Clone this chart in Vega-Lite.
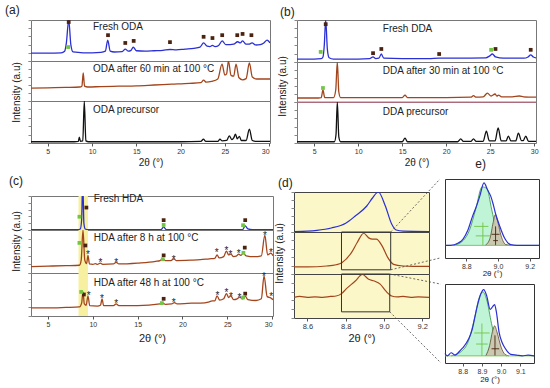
{
"$schema": "https://vega.github.io/schema/vega-lite/v6.json",
"padding": {"left": 4, "top": 0, "right": 0, "bottom": 0},
"spacing": 0,
"config": {
 "font": "Liberation Sans",
 "view": {"stroke": "#777", "strokeWidth": 1},
 "axisX": {"labelFontSize": 7, "labelColor": "#333", "tickColor": "#555", "tickSize": 3, "labelPadding": 1, "domain": false, "grid": false, "titleFontSize": 10, "titleFontWeight": "normal", "titleColor": "#222", "titlePadding": 3},
 "axisY": {"labels": false, "domain": false, "grid": false, "tickSize": 3, "tickCount": 4, "tickColor": "#888", "titleFontSize": 10, "titleFontWeight": "normal", "titleColor": "#222", "titlePadding": 6},
 "title": {"fontSize": 12, "fontWeight": "normal", "color": "#222", "frame": "group"}
},
"datasets": {
 "a1": [{"x":3.1,"y":19},{"x":5,"y":19},{"x":6.5,"y":20},{"x":6.9,"y":24},{"x":7.1,"y":45},{"x":7.36,"y":100},{"x":7.6,"y":40},{"x":7.85,"y":22},{"x":9,"y":20},{"x":10,"y":20},{"x":11,"y":21},{"x":11.5,"y":24},{"x":11.77,"y":51},{"x":12.05,"y":24},{"x":12.5,"y":22},{"x":13.4,"y":23},{"x":13.75,"y":29},{"x":14.1,"y":24},{"x":14.4,"y":26},{"x":14.65,"y":34},{"x":15,"y":25},{"x":16,"y":24},{"x":17,"y":25},{"x":18,"y":26},{"x":18.8,"y":28},{"x":19.5,"y":27},{"x":20.5,"y":29},{"x":21.5,"y":31},{"x":22.2,"y":34},{"x":22.6,"y":44},{"x":23,"y":36},{"x":23.3,"y":35},{"x":23.6,"y":38},{"x":23.9,"y":35},{"x":24.3,"y":38},{"x":24.7,"y":49},{"x":25.1,"y":40},{"x":25.6,"y":40},{"x":26,"y":41},{"x":26.45,"y":47},{"x":26.75,"y":44},{"x":27,"y":49},{"x":27.4,"y":41},{"x":27.7,"y":41},{"x":28.07,"y":44},{"x":28.5,"y":39},{"x":29,"y":40},{"x":29.4,"y":44},{"x":29.77,"y":51},{"x":30.1,"y":44}],
 "a1m": [{"x":7.36,"y":95,"k":"b"},{"x":11.8,"y":63,"k":"b"},{"x":13.75,"y":44,"k":"b"},{"x":14.7,"y":49,"k":"b"},{"x":18.8,"y":46,"k":"b"},{"x":22.6,"y":59,"k":"b"},{"x":23.6,"y":56,"k":"b"},{"x":24.7,"y":63,"k":"b"},{"x":26.4,"y":63,"k":"b"},{"x":27.0,"y":66,"k":"b"},{"x":28.0,"y":63,"k":"b"},{"x":7.3,"y":34,"k":"g"}],
 "a2": [{"x":3.1,"y":32},{"x":5,"y":33},{"x":7,"y":34},{"x":8.6,"y":35},{"x":8.85,"y":37},{"x":9.0,"y":70},{"x":9.15,"y":37},{"x":9.5,"y":35},{"x":11,"y":36},{"x":13,"y":37},{"x":15,"y":38},{"x":17,"y":40},{"x":19,"y":42},{"x":21,"y":44},{"x":22.3,"y":46},{"x":22.6,"y":52},{"x":22.9,"y":47},{"x":23.5,"y":49},{"x":24.2,"y":55},{"x":24.68,"y":92},{"x":25.0,"y":65},{"x":25.2,"y":68},{"x":25.4,"y":100},{"x":25.7,"y":64},{"x":26.0,"y":62},{"x":26.26,"y":92},{"x":26.6,"y":58},{"x":27.0,"y":53},{"x":27.4,"y":56},{"x":27.77,"y":95},{"x":28.1,"y":60},{"x":28.6,"y":55},{"x":29.5,"y":55},{"x":30.1,"y":55}],
 "a3": [{"x":3.1,"y":3},{"x":8,"y":3},{"x":8.45,"y":4},{"x":8.56,"y":14},{"x":8.68,"y":4},{"x":8.95,"y":5},{"x":9.12,"y":100},{"x":9.3,"y":5},{"x":9.6,"y":3},{"x":15,"y":3},{"x":20,"y":3},{"x":22.3,"y":4},{"x":22.58,"y":9},{"x":22.85,"y":4},{"x":24.2,"y":4},{"x":24.45,"y":9},{"x":24.7,"y":5},{"x":25.2,"y":6},{"x":25.5,"y":17},{"x":25.8,"y":8},{"x":26.0,"y":12},{"x":26.2,"y":21},{"x":26.4,"y":10},{"x":26.65,"y":16},{"x":26.85,"y":6},{"x":27.4,"y":6},{"x":27.77,"y":33},{"x":28.1,"y":6},{"x":28.5,"y":4},{"x":30.1,"y":4}],
 "b1": [{"x":3.05,"y":7},{"x":5,"y":7},{"x":5.8,"y":8},{"x":6.0,"y":12},{"x":6.15,"y":40},{"x":6.31,"y":100},{"x":6.5,"y":30},{"x":6.7,"y":10},{"x":7.2,"y":7},{"x":10,"y":7},{"x":11.3,"y":8},{"x":11.69,"y":12},{"x":12.0,"y":8},{"x":12.35,"y":9},{"x":12.63,"y":19},{"x":12.9,"y":9},{"x":15,"y":8},{"x":18,"y":8},{"x":19.2,"y":9},{"x":21,"y":9},{"x":24.5,"y":10},{"x":24.9,"y":14},{"x":25.25,"y":19},{"x":25.6,"y":12},{"x":26.5,"y":9},{"x":28.8,"y":9},{"x":29.3,"y":12},{"x":29.6,"y":17},{"x":29.9,"y":12},{"x":30.2,"y":10}],
 "b1m": [{"x":6.31,"y":90,"k":"b"},{"x":11.69,"y":21,"k":"b"},{"x":12.63,"y":31,"k":"b"},{"x":19.2,"y":19,"k":"b"},{"x":25.6,"y":31,"k":"b"},{"x":29.6,"y":29,"k":"b"},{"x":5.74,"y":24,"k":"g"},{"x":25.1,"y":29,"k":"g"}],
 "b2": [{"x":3.05,"y":10},{"x":5.5,"y":10},{"x":5.8,"y":11},{"x":6.0,"y":30},{"x":6.2,"y":11},{"x":7.2,"y":11},{"x":7.45,"y":30},{"x":7.63,"y":100},{"x":7.8,"y":25},{"x":8.0,"y":11},{"x":11,"y":11},{"x":15.0,"y":11},{"x":15.32,"y":17},{"x":15.6,"y":11},{"x":20,"y":11},{"x":22.8,"y":12},{"x":23.1,"y":16},{"x":23.4,"y":12},{"x":24.2,"y":13},{"x":24.68,"y":22},{"x":25.1,"y":15},{"x":25.55,"y":20},{"x":25.75,"y":15},{"x":25.95,"y":17},{"x":26.3,"y":13},{"x":27.5,"y":13},{"x":28.3,"y":15},{"x":28.8,"y":13},{"x":30.2,"y":12}],
 "b2m": [{"x":6.0,"y":35,"k":"g"}],
 "b3": [{"x":3.05,"y":3},{"x":7.3,"y":3},{"x":7.48,"y":20},{"x":7.63,"y":100},{"x":7.8,"y":15},{"x":8.0,"y":3},{"x":15.0,"y":3},{"x":15.32,"y":12},{"x":15.6,"y":3},{"x":21.3,"y":3},{"x":21.65,"y":10},{"x":21.95,"y":4},{"x":22.8,"y":4},{"x":23.1,"y":10},{"x":23.4,"y":4},{"x":24.2,"y":4},{"x":24.56,"y":29},{"x":24.9,"y":5},{"x":25.55,"y":5},{"x":25.9,"y":37},{"x":26.25,"y":5},{"x":26.8,"y":5},{"x":27.06,"y":17},{"x":27.35,"y":5},{"x":27.9,"y":5},{"x":28.2,"y":24},{"x":28.55,"y":6},{"x":28.75,"y":6},{"x":29.04,"y":17},{"x":29.35,"y":4},{"x":30.2,"y":4}],
 "c1": [{"x":3.1,"y":1},{"x":8.3,"y":1},{"x":8.6,"y":3},{"x":8.75,"y":30},{"x":8.87,"y":150},{"x":9.0,"y":20},{"x":9.15,"y":3},{"x":9.5,"y":1},{"x":17.6,"y":1},{"x":17.9,"y":9},{"x":18.2,"y":1},{"x":26.7,"y":1},{"x":27.0,"y":12},{"x":27.3,"y":3},{"x":27.8,"y":1},{"x":30.1,"y":1}],
 "c1m": [{"x":8.5,"y":39,"k":"g"},{"x":9.28,"y":66,"k":"b"},{"x":17.9,"y":29,"k":"b"},{"x":17.9,"y":15,"k":"g"},{"x":27.0,"y":29,"k":"b"},{"x":26.76,"y":14,"k":"g"}],
 "c2": [{"x":3.1,"y":15},{"x":5,"y":16},{"x":7,"y":17},{"x":8.5,"y":18},{"x":8.7,"y":30},{"x":8.9,"y":100},{"x":9.1,"y":30},{"x":9.3,"y":22},{"x":9.46,"y":41},{"x":9.62,"y":21},{"x":10.0,"y":20},{"x":10.3,"y":22},{"x":10.5,"y":20},{"x":10.84,"y":23},{"x":11.1,"y":20},{"x":12.3,"y":21},{"x":12.6,"y":25},{"x":12.9,"y":21},{"x":15,"y":23},{"x":17.0,"y":27},{"x":17.5,"y":29},{"x":17.8,"y":33},{"x":18.1,"y":29},{"x":18.7,"y":29},{"x":19.03,"y":33},{"x":19.3,"y":29},{"x":21,"y":30},{"x":22,"y":31},{"x":23,"y":33},{"x":23.6,"y":34},{"x":23.86,"y":42},{"x":24.1,"y":35},{"x":24.6,"y":38},{"x":24.9,"y":51},{"x":25.15,"y":42},{"x":25.4,"y":44},{"x":25.7,"y":38},{"x":26.0,"y":39},{"x":26.28,"y":44},{"x":26.5,"y":41},{"x":26.8,"y":46},{"x":27.1,"y":40},{"x":28.0,"y":38},{"x":28.8,"y":40},{"x":29.19,"y":88},{"x":29.5,"y":42},{"x":29.86,"y":46},{"x":30.1,"y":40}],
 "c2m": [{"x":9.46,"y":48,"k":"s"},{"x":10.84,"y":30,"k":"s"},{"x":12.6,"y":30,"k":"s"},{"x":19.03,"y":37,"k":"s"},{"x":23.82,"y":53,"k":"s"},{"x":24.9,"y":58,"k":"s"},{"x":25.35,"y":49,"k":"s"},{"x":26.28,"y":51,"k":"s"},{"x":29.19,"y":93,"k":"s"},{"x":29.86,"y":53,"k":"s"},{"x":9.17,"y":64,"k":"b"},{"x":17.9,"y":41,"k":"b"},{"x":26.95,"y":59,"k":"b"},{"x":8.5,"y":70,"k":"g"},{"x":17.8,"y":32,"k":"g"},{"x":26.8,"y":47,"k":"g"}],
 "c3": [{"x":3.1,"y":19},{"x":5,"y":19},{"x":7,"y":20},{"x":8.5,"y":21},{"x":8.75,"y":30},{"x":8.9,"y":56},{"x":9.05,"y":28},{"x":9.25,"y":25},{"x":9.46,"y":47},{"x":9.65,"y":24},{"x":10.5,"y":23},{"x":10.85,"y":25},{"x":11.03,"y":40},{"x":11.2,"y":24},{"x":12.3,"y":24},{"x":12.6,"y":28},{"x":12.9,"y":24},{"x":15,"y":24},{"x":17.5,"y":28},{"x":17.8,"y":30},{"x":18.1,"y":27},{"x":18.8,"y":28},{"x":19.1,"y":31},{"x":19.4,"y":28},{"x":21,"y":30},{"x":22,"y":30},{"x":23,"y":33},{"x":23.3,"y":35},{"x":23.6,"y":35},{"x":23.86,"y":47},{"x":24.15,"y":37},{"x":24.6,"y":40},{"x":24.9,"y":52},{"x":25.15,"y":43},{"x":25.4,"y":47},{"x":25.7,"y":38},{"x":26.1,"y":40},{"x":26.4,"y":44},{"x":26.7,"y":40},{"x":27.0,"y":46},{"x":27.3,"y":38},{"x":28.2,"y":36},{"x":28.8,"y":40},{"x":29.1,"y":93},{"x":29.45,"y":45},{"x":29.86,"y":42},{"x":30.1,"y":38}],
 "c3m": [{"x":9.54,"y":53,"k":"s"},{"x":11.03,"y":46,"k":"s"},{"x":12.6,"y":34,"k":"s"},{"x":19.03,"y":38,"k":"s"},{"x":23.9,"y":53,"k":"s"},{"x":24.9,"y":60,"k":"s"},{"x":25.4,"y":51,"k":"s"},{"x":26.35,"y":50,"k":"s"},{"x":29.08,"y":98,"k":"s"},{"x":29.9,"y":52,"k":"s"},{"x":9.0,"y":50,"k":"b"},{"x":17.9,"y":40,"k":"b"},{"x":27.0,"y":52,"k":"b"},{"x":8.7,"y":56,"k":"g"},{"x":17.7,"y":30,"k":"g"},{"x":26.76,"y":43,"k":"g"}],
 "d1": [{"x":8.53,"y":1},{"x":8.6,"y":2},{"x":8.65,"y":4},{"x":8.725,"y":10},{"x":8.8,"y":22},{"x":8.85,"y":40},{"x":8.91,"y":65},{"x":8.94,"y":85},{"x":8.97,"y":100},{"x":9.007,"y":65},{"x":9.04,"y":20},{"x":9.064,"y":5},{"x":9.1,"y":2},{"x":9.235,"y":1}],
 "d2": [{"x":8.53,"y":17},{"x":8.6,"y":17},{"x":8.7,"y":19},{"x":8.75,"y":22},{"x":8.78,"y":27},{"x":8.83,"y":51},{"x":8.86,"y":75},{"x":8.894,"y":97},{"x":8.92,"y":86},{"x":8.94,"y":83},{"x":8.96,"y":83},{"x":8.99,"y":67},{"x":9.02,"y":39},{"x":9.05,"y":23},{"x":9.1,"y":19},{"x":9.15,"y":18},{"x":9.235,"y":18}],
 "d3": [{"x":8.53,"y":47},{"x":8.56,"y":49},{"x":8.6,"y":47},{"x":8.64,"y":48},{"x":8.68,"y":47},{"x":8.72,"y":49},{"x":8.75,"y":50},{"x":8.78,"y":56},{"x":8.8,"y":65},{"x":8.85,"y":84},{"x":8.887,"y":99},{"x":8.92,"y":88},{"x":8.95,"y":84},{"x":8.98,"y":77},{"x":9.01,"y":61},{"x":9.04,"y":50},{"x":9.07,"y":48},{"x":9.1,"y":49},{"x":9.14,"y":47},{"x":9.18,"y":48},{"x":9.235,"y":47}],
 "d2box": [{"x":8.778,"x2":9.035,"y":10,"y2":100}],
 "d3box": [{"x":8.778,"x2":9.03,"y":14,"y2":100}],
 "d2con": [{"x":9.035,"y":100,"x2":9.292,"y2":226},{"x":9.035,"y":10,"x2":9.292,"y2":38}],
 "d3con": [{"x":9.03,"y":100,"x2":9.297,"y2":77},{"x":9.03,"y":14,"x2":9.297,"y2":-102}],
 "e1b": [{"x":8.666,"y":16},{"x":8.7,"y":16},{"x":8.75,"y":19},{"x":8.78,"y":24},{"x":8.81,"y":35},{"x":8.84,"y":53},{"x":8.865,"y":66},{"x":8.885,"y":78},{"x":8.912,"y":95},{"x":8.935,"y":86},{"x":8.955,"y":78},{"x":8.97,"y":68},{"x":8.985,"y":56},{"x":9.01,"y":41},{"x":9.04,"y":26},{"x":9.08,"y":17},{"x":9.12,"y":16},{"x":9.2,"y":16},{"x":9.259,"y":16}],
 "e1g": [{"x":8.72,"y":16},{"x":8.78,"y":22},{"x":8.82,"y":35},{"x":8.86,"y":62},{"x":8.9,"y":90},{"x":8.93,"y":88},{"x":8.96,"y":62},{"x":8.99,"y":35},{"x":9.02,"y":20},{"x":9.06,"y":16}],
 "e1k": [{"x":8.92,"y":16},{"x":8.95,"y":25},{"x":8.97,"y":45},{"x":8.983,"y":55},{"x":9.0,"y":45},{"x":9.02,"y":28},{"x":9.05,"y":17},{"x":9.08,"y":16}],
 "e1r": [{"x":8.905,"x2":8.905,"y":16,"y2":45,"k":"g"},{"x":8.85,"x2":8.94,"y":40,"y2":40,"k":"g"},{"x":8.86,"x2":8.95,"y":28,"y2":28,"k":"g"},{"x":8.985,"x2":8.985,"y":16,"y2":40,"k":"k"},{"x":8.96,"x2":9.01,"y":30,"y2":30,"k":"k"},{"x":8.97,"x2":9.0,"y":22,"y2":22,"k":"k"},{"x":8.666,"x2":9.259,"y":16,"y2":16,"k":"g"}],
 "e2b": [{"x":8.708,"y":12},{"x":8.72,"y":9},{"x":8.74,"y":13},{"x":8.76,"y":10},{"x":8.78,"y":14},{"x":8.8,"y":19},{"x":8.83,"y":30},{"x":8.85,"y":43},{"x":8.865,"y":60},{"x":8.88,"y":76},{"x":8.895,"y":88},{"x":8.909,"y":93},{"x":8.925,"y":85},{"x":8.943,"y":68},{"x":8.955,"y":71},{"x":8.966,"y":74},{"x":8.975,"y":65},{"x":8.99,"y":38},{"x":9.005,"y":26},{"x":9.02,"y":19},{"x":9.05,"y":11},{"x":9.08,"y":10},{"x":9.11,"y":9},{"x":9.14,"y":10},{"x":9.171,"y":9}],
 "e2g": [{"x":8.74,"y":9},{"x":8.79,"y":14},{"x":8.83,"y":28},{"x":8.86,"y":55},{"x":8.885,"y":82},{"x":8.905,"y":90},{"x":8.925,"y":80},{"x":8.95,"y":50},{"x":8.975,"y":25},{"x":9.0,"y":13},{"x":9.03,"y":9}],
 "e2k": [{"x":8.92,"y":9},{"x":8.94,"y":22},{"x":8.955,"y":40},{"x":8.966,"y":47},{"x":8.98,"y":38},{"x":9.0,"y":20},{"x":9.02,"y":11},{"x":9.04,"y":9}],
 "e2r": [{"x":8.9,"x2":8.9,"y":9,"y2":50,"k":"g"},{"x":8.86,"x2":8.94,"y":38,"y2":38,"k":"g"},{"x":8.87,"x2":8.93,"y":24,"y2":24,"k":"g"},{"x":8.968,"x2":8.968,"y":9,"y2":35,"k":"k"},{"x":8.95,"x2":8.99,"y":18,"y2":18,"k":"k"},{"x":8.708,"x2":9.171,"y":9,"y2":9,"k":"g"}],
 "labA1": [{"x":10.1,"y":83,"t":"Fresh ODA"}],
 "labA2": [{"x":10.1,"y":80,"t":"ODA after 60 min at 100 °C"}],
 "labA3": [{"x":10.1,"y":79,"t":"ODA precursor"}],
 "labB1": [{"x":12.8,"y":79,"t":"Fresh DDA"}],
 "labB2": [{"x":12.8,"y":78,"t":"DDA after 30 min at 100 °C"}],
 "labB3": [{"x":12.8,"y":76,"t":"DDA precursor"}],
 "labC1": [{"x":10.1,"y":91,"t":"Fresh HDA"}],
 "labC2": [{"x":10.1,"y":81,"t":"HDA after 8 h at 100 °C"}],
 "labC3": [{"x":10.1,"y":77,"t":"HDA after 48 h at 100 °C"}],
 "band": [{"x":8.4,"x2":9.45,"y":0,"y2":100}],
 "sepB": [{"x":3.05,"x2":30.2,"y":100}]
},
"vconcat": [
 {"hconcat": [
  {"vconcat": [
   {"width": 10, "height": 20, "data": {"values": []}, "mark": "point", "view": {"stroke": null}},
   {"width": 239, "height": 41,
    "title": {"text": "(a)", "anchor": "start", "dx": -26, "offset": 3},
    "encoding": {"x": {"field": "x", "type": "quantitative", "scale": {"domain": [3.1, 30.1], "nice": false, "zero": false}, "axis": null},
                 "y": {"field": "y", "type": "quantitative", "scale": {"domain": [0, 100], "nice": false, "zero": false}, "axis": {"title": null}}},
    "layer": [
     {"data": {"name": "a1"}, "mark": {"type": "line", "color": "#2a2fd4", "strokeWidth": 1.3, "interpolate": "monotone", "clip": true}},
     {"data": {"name": "a1m"}, "mark": {"type": "square", "size": 14, "opacity": 1}, "encoding": {"color": {"field": "k", "type": "nominal", "scale": {"domain": ["b", "g"], "range": ["#4a2410", "#72c545"]}, "legend": null}}},
     {"data": {"name": "labA1"}, "mark": {"type": "text", "align": "left", "baseline": "middle", "fontSize": 10, "color": "#222"}, "encoding": {"text": {"field": "t"}}}
    ]},
   {"width": 239, "height": 40,
    "encoding": {"x": {"field": "x", "type": "quantitative", "scale": {"domain": [3.1, 30.1], "nice": false, "zero": false}, "axis": null},
                 "y": {"field": "y", "type": "quantitative", "scale": {"domain": [0, 100], "nice": false, "zero": false}, "axis": {"title": "Intensity (a.u)", "titleY": 31}}},
    "layer": [
     {"data": {"name": "a2"}, "mark": {"type": "line", "color": "#a3451c", "strokeWidth": 1.3, "interpolate": "monotone", "clip": true}},
     {"data": {"name": "labA2"}, "mark": {"type": "text", "align": "left", "baseline": "middle", "fontSize": 10, "color": "#222"}, "encoding": {"text": {"field": "t"}}}
    ]},
   {"width": 239, "height": 42,
    "encoding": {"x": {"field": "x", "type": "quantitative", "scale": {"domain": [3.1, 30.1], "nice": false, "zero": false}, "axis": {"values": [5, 10, 15, 20, 25, 30], "title": "2θ (°)"}},
                 "y": {"field": "y", "type": "quantitative", "scale": {"domain": [0, 100], "nice": false, "zero": false}, "axis": {"title": null}}},
    "layer": [
     {"data": {"name": "a3"}, "mark": {"type": "line", "color": "#111111", "strokeWidth": 1.3, "interpolate": "monotone", "clip": true}},
     {"data": {"name": "labA3"}, "mark": {"type": "text", "align": "left", "baseline": "middle", "fontSize": 10, "color": "#222"}, "encoding": {"text": {"field": "t"}}}
    ]},
   {"width": 10, "height": 31, "data": {"values": []}, "mark": "point", "view": {"stroke": null}}
  ], "spacing": 0, "bounds": "flush"},
  {"vconcat": [
   {"width": 10, "height": 20, "data": {"values": []}, "mark": "point", "view": {"stroke": null}},
   {"width": 239, "height": 42,
    "title": {"text": "(b)", "anchor": "start", "dx": -17, "offset": 1},
    "encoding": {"x": {"field": "x", "type": "quantitative", "scale": {"domain": [3.05, 30.2], "nice": false, "zero": false}, "axis": null},
                 "y": {"field": "y", "type": "quantitative", "scale": {"domain": [0, 100], "nice": false, "zero": false}, "axis": {"title": null}}},
    "layer": [
     {"data": {"name": "b1"}, "mark": {"type": "line", "color": "#2a2fd4", "strokeWidth": 1.3, "interpolate": "monotone", "clip": true}},
     {"data": {"name": "b1m"}, "mark": {"type": "square", "size": 14, "opacity": 1}, "encoding": {"color": {"field": "k", "type": "nominal", "scale": {"domain": ["b", "g"], "range": ["#4a2410", "#72c545"]}, "legend": null}}},
     {"data": {"name": "labB1"}, "mark": {"type": "text", "align": "left", "baseline": "middle", "fontSize": 10, "color": "#222"}, "encoding": {"text": {"field": "t"}}}
    ]},
   {"width": 239, "height": 40,
    "encoding": {"x": {"field": "x", "type": "quantitative", "scale": {"domain": [3.05, 30.2], "nice": false, "zero": false}, "axis": null},
                 "y": {"field": "y", "type": "quantitative", "scale": {"domain": [0, 100], "nice": false, "zero": false}, "axis": {"title": "Intensity (a.u)", "titleY": 24}}},
    "layer": [
     {"data": {"name": "b2"}, "mark": {"type": "line", "color": "#a3451c", "strokeWidth": 1.3, "interpolate": "monotone", "clip": true}},
     {"data": {"name": "b2m"}, "mark": {"type": "square", "size": 14, "opacity": 1, "color": "#72c545"}},
     {"data": {"name": "labB2"}, "mark": {"type": "text", "align": "left", "baseline": "middle", "fontSize": 10, "color": "#222"}, "encoding": {"text": {"field": "t"}}}
    ]},
   {"width": 239, "height": 41,
    "encoding": {"x": {"field": "x", "type": "quantitative", "scale": {"domain": [3.05, 30.2], "nice": false, "zero": false}, "axis": {"values": [5, 10, 15, 20, 25, 30], "title": "2θ (°)"}},
                 "y": {"field": "y", "type": "quantitative", "scale": {"domain": [0, 100], "nice": false, "zero": false}, "axis": {"title": null}}},
    "layer": [
     {"data": {"name": "sepB"}, "mark": {"type": "rule", "color": "#e0607e", "strokeWidth": 1.2}, "encoding": {"x2": {"field": "x2"}}},
     {"data": {"name": "b3"}, "mark": {"type": "line", "color": "#111111", "strokeWidth": 1.3, "interpolate": "monotone", "clip": true}},
     {"data": {"name": "labB3"}, "mark": {"type": "text", "align": "left", "baseline": "middle", "fontSize": 10, "color": "#222"}, "encoding": {"text": {"field": "t"}}}
    ]},
   {"width": 239, "height": 31, "data": {"values": []}, "mark": "point", "view": {"stroke": null},
    "title": {"text": "e)", "orient": "bottom", "anchor": "end", "dx": -50, "offset": -15}}
  ], "spacing": 0, "bounds": "flush"}
 ], "spacing": 6},
 {"hconcat": [
  {"vconcat": [
   {"width": 10, "height": 21, "data": {"values": []}, "mark": "point", "view": {"stroke": null}},
   {"width": 242, "height": 34,
    "title": {"text": "(c)", "anchor": "start", "dx": -22, "offset": 6},
    "encoding": {"x": {"field": "x", "type": "quantitative", "scale": {"domain": [3.1, 30.1], "nice": false, "zero": false}, "axis": null},
                 "y": {"field": "y", "type": "quantitative", "scale": {"domain": [0, 100], "nice": false, "zero": false}, "axis": {"title": null}}},
    "layer": [
     {"data": {"name": "band"}, "mark": {"type": "rect", "color": "#f6f0a0"}, "encoding": {"x2": {"field": "x2"}, "y2": {"field": "y2"}}},
     {"data": {"name": "c1"}, "mark": {"type": "line", "color": "#2a2fd4", "strokeWidth": 1.3, "interpolate": "monotone", "clip": true}},
     {"data": {"name": "c1m"}, "mark": {"type": "square", "size": 14, "opacity": 1}, "encoding": {"color": {"field": "k", "type": "nominal", "scale": {"domain": ["b", "g"], "range": ["#4a2410", "#72c545"]}, "legend": null}}},
     {"data": {"name": "labC1"}, "mark": {"type": "text", "align": "left", "baseline": "middle", "fontSize": 10, "color": "#222"}, "encoding": {"text": {"field": "t"}}}
    ]},
   {"width": 242, "height": 43,
    "encoding": {"x": {"field": "x", "type": "quantitative", "scale": {"domain": [3.1, 30.1], "nice": false, "zero": false}, "axis": null},
                 "y": {"field": "y", "type": "quantitative", "scale": {"domain": [0, 100], "nice": false, "zero": false}, "axis": {"title": "Intensity (a.u)", "titleY": 11}}},
    "layer": [
     {"data": {"name": "band"}, "mark": {"type": "rect", "color": "#f6f0a0"}, "encoding": {"x2": {"field": "x2"}, "y2": {"field": "y2"}}},
     {"data": {"name": "c2"}, "mark": {"type": "line", "color": "#a3451c", "strokeWidth": 1.3, "interpolate": "monotone", "clip": true}},
     {"data": {"name": "c2m"}, "transform": [{"filter": "datum.k !== 's'"}], "mark": {"type": "square", "size": 14, "opacity": 1}, "encoding": {"color": {"field": "k", "type": "nominal", "scale": {"domain": ["b", "g"], "range": ["#4a2410", "#72c545"]}, "legend": null}}},
     {"data": {"name": "c2m"}, "transform": [{"filter": "datum.k === 's'"}], "mark": {"type": "text", "text": "*", "fontSize": 10, "baseline": "middle", "dy": 3, "color": "#222"}},
     {"data": {"name": "labC2"}, "mark": {"type": "text", "align": "left", "baseline": "middle", "fontSize": 10, "color": "#222"}, "encoding": {"text": {"field": "t"}}}
    ]},
   {"width": 242, "height": 43,
    "encoding": {"x": {"field": "x", "type": "quantitative", "scale": {"domain": [3.1, 30.1], "nice": false, "zero": false}, "axis": {"values": [5, 10, 15, 20, 25, 30], "title": "2θ (°)", "titleFontSize": 11, "titlePadding": 5}},
                 "y": {"field": "y", "type": "quantitative", "scale": {"domain": [0, 100], "nice": false, "zero": false}, "axis": {"title": null}}},
    "layer": [
     {"data": {"name": "band"}, "mark": {"type": "rect", "color": "#f6f0a0"}, "encoding": {"x2": {"field": "x2"}, "y2": {"field": "y2"}}},
     {"data": {"name": "c3"}, "mark": {"type": "line", "color": "#a3451c", "strokeWidth": 1.3, "interpolate": "monotone", "clip": true}},
     {"data": {"name": "c3m"}, "transform": [{"filter": "datum.k !== 's'"}], "mark": {"type": "square", "size": 14, "opacity": 1}, "encoding": {"color": {"field": "k", "type": "nominal", "scale": {"domain": ["b", "g"], "range": ["#4a2410", "#72c545"]}, "legend": null}}},
     {"data": {"name": "c3m"}, "transform": [{"filter": "datum.k === 's'"}], "mark": {"type": "text", "text": "*", "fontSize": 10, "baseline": "middle", "dy": 3, "color": "#222"}},
     {"data": {"name": "labC3"}, "mark": {"type": "text", "align": "left", "baseline": "middle", "fontSize": 10, "color": "#222"}, "encoding": {"text": {"field": "t"}}}
    ]}
  ], "spacing": 0, "bounds": "flush"},
  {"hconcat": [
   {"vconcat": [
    {"width": 10, "height": 17, "data": {"values": []}, "mark": "point", "view": {"stroke": null}},
    {"width": 135, "height": 40,
     "title": {"text": "(d)", "anchor": "start", "dx": -16, "offset": 2},
     "view": {"fill": "#fcf7c8", "stroke": "#444"},
     "encoding": {"x": {"field": "x", "type": "quantitative", "scale": {"domain": [8.53, 9.235], "nice": false, "zero": false}, "axis": null},
                  "y": {"field": "y", "type": "quantitative", "scale": {"domain": [0, 100], "nice": false, "zero": false}, "axis": {"title": null}}},
     "layer": [
      {"data": {"name": "d1"}, "mark": {"type": "line", "color": "#2a2fd4", "strokeWidth": 1.2, "interpolate": "monotone", "clip": true}}
     ]},
    {"width": 135, "height": 42,
     "view": {"fill": "#fcf7c8", "stroke": "#444"},
     "encoding": {"x": {"field": "x", "type": "quantitative", "scale": {"domain": [8.53, 9.235], "nice": false, "zero": false}, "axis": null},
                  "y": {"field": "y", "type": "quantitative", "scale": {"domain": [0, 100], "nice": false, "zero": false}, "axis": {"title": "Intensity (a.u)"}}},
     "layer": [
      {"data": {"name": "d2"}, "mark": {"type": "line", "color": "#a3451c", "strokeWidth": 1.2, "interpolate": "monotone", "clip": true}},
      {"data": {"name": "d2box"}, "mark": {"type": "rect", "fillOpacity": 0, "stroke": "#333", "strokeWidth": 1}, "encoding": {"x2": {"field": "x2"}, "y2": {"field": "y2"}}},
      {"data": {"name": "d2con"}, "mark": {"type": "rule", "color": "#444", "strokeWidth": 0.8, "strokeDash": [2, 2]}, "encoding": {"x2": {"field": "x2"}, "y2": {"field": "y2"}}}
     ]},
    {"width": 135, "height": 44,
     "view": {"fill": "#fcf7c8", "stroke": "#444"},
     "encoding": {"x": {"field": "x", "type": "quantitative", "scale": {"domain": [8.53, 9.235], "nice": false, "zero": false}, "axis": {"values": [8.6, 8.8, 9.0, 9.2], "format": ".1f", "title": "2θ (°)", "labelFontSize": 7.5, "titleFontSize": 11}},
                  "y": {"field": "y", "type": "quantitative", "scale": {"domain": [0, 100], "nice": false, "zero": false}, "axis": {"title": null}}},
     "layer": [
      {"data": {"name": "d3"}, "mark": {"type": "line", "color": "#a3451c", "strokeWidth": 1.2, "interpolate": "monotone", "clip": true}},
      {"data": {"name": "d3box"}, "mark": {"type": "rect", "fillOpacity": 0, "stroke": "#333", "strokeWidth": 1}, "encoding": {"x2": {"field": "x2"}, "y2": {"field": "y2"}}},
      {"data": {"name": "d3con"}, "mark": {"type": "rule", "color": "#444", "strokeWidth": 0.8, "strokeDash": [2, 2]}, "encoding": {"x2": {"field": "x2"}, "y2": {"field": "y2"}}}
     ]}
   ], "spacing": 0, "bounds": "flush"},
   {"vconcat": [
    {"width": 10, "height": 4, "data": {"values": []}, "mark": "point", "view": {"stroke": null}},
    {"width": 94, "height": 79,
     "view": {"stroke": "#333"},
     "encoding": {"x": {"field": "x", "type": "quantitative", "scale": {"domain": [8.666, 9.259], "nice": false, "zero": false}, "axis": {"values": [8.8, 9.0, 9.2], "format": ".1f", "title": "2θ (°)", "titleFontSize": 8, "titlePadding": 0}},
                  "y": {"field": "y", "type": "quantitative", "scale": {"domain": [0, 100], "nice": false, "zero": false}, "axis": null}},
     "layer": [
      {"data": {"name": "e1g"}, "mark": {"type": "area", "color": "#a4f0c6", "interpolate": "monotone", "line": {"color": "#2f8f3f", "strokeWidth": 0.8}}, "encoding": {"y2": {"datum": 16}}},
      {"data": {"name": "e1k"}, "mark": {"type": "area", "color": "#cbc3ad", "opacity": 0.9, "interpolate": "monotone", "line": {"color": "#5a4a2a", "strokeWidth": 0.8}}, "encoding": {"y2": {"datum": 16}}},
      {"data": {"name": "e1r"}, "mark": {"type": "rule", "strokeWidth": 0.9}, "encoding": {"x2": {"field": "x2"}, "y2": {"field": "y2"}, "color": {"field": "k", "type": "nominal", "scale": {"domain": ["g", "k"], "range": ["#2f8f3f", "#4a3a20"]}, "legend": null}}},
      {"data": {"name": "e1b"}, "mark": {"type": "line", "color": "#2a2fd4", "strokeWidth": 1.2, "interpolate": "monotone"}}
     ]},
    {"width": 10, "height": 26, "data": {"values": []}, "mark": "point", "view": {"stroke": null}},
    {"width": 89, "height": 79,
     "view": {"stroke": "#333"},
     "encoding": {"x": {"field": "x", "type": "quantitative", "scale": {"domain": [8.708, 9.171], "nice": false, "zero": false}, "axis": {"values": [8.8, 8.9, 9.0, 9.1], "format": ".1f", "title": "2θ (°)", "titleFontSize": 8, "titlePadding": 1}},
                  "y": {"field": "y", "type": "quantitative", "scale": {"domain": [0, 100], "nice": false, "zero": false}, "axis": null}},
     "layer": [
      {"data": {"name": "e2g"}, "mark": {"type": "area", "color": "#a4f0c6", "interpolate": "monotone", "line": {"color": "#2f8f3f", "strokeWidth": 0.8}}, "encoding": {"y2": {"datum": 9}}},
      {"data": {"name": "e2k"}, "mark": {"type": "area", "color": "#cbc3ad", "opacity": 0.9, "interpolate": "monotone", "line": {"color": "#5a4a2a", "strokeWidth": 0.8}}, "encoding": {"y2": {"datum": 9}}},
      {"data": {"name": "e2r"}, "mark": {"type": "rule", "strokeWidth": 0.9}, "encoding": {"x2": {"field": "x2"}, "y2": {"field": "y2"}, "color": {"field": "k", "type": "nominal", "scale": {"domain": ["g", "k"], "range": ["#2f8f3f", "#4a3a20"]}, "legend": null}}},
      {"data": {"name": "e2b"}, "mark": {"type": "line", "color": "#2a2fd4", "strokeWidth": 1.2, "interpolate": "monotone"}}
     ]}
   ], "spacing": 0, "bounds": "flush"}
  ], "spacing": 0}
 ], "spacing": 0}
]
}
